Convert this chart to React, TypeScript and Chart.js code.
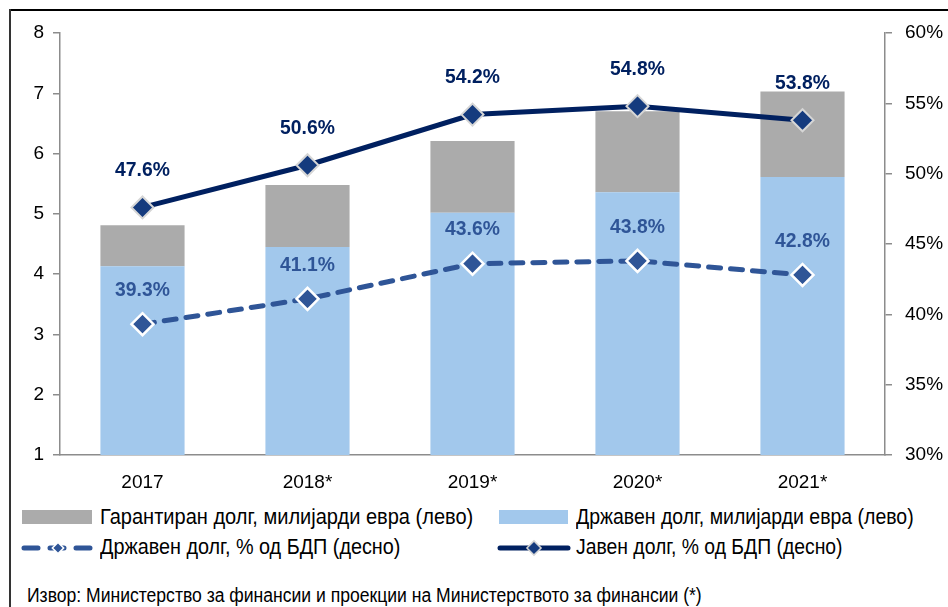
import React, { useEffect, useRef } from "react";
import { Chart, registerables } from "chart.js";
Chart.register(...registerables);

const years = ["2017", "2018*", "2019*", "2020*", "2021*"];
const stateDebtBn = [4.13, 4.45, 5.02, 5.36, 5.61];
const guaranteedDebtBn = [0.68, 1.03, 1.19, 1.34, 1.42];
const stateDebtPct = [39.3, 41.1, 43.6, 43.8, 42.8];
const publicDebtPct = [47.6, 50.6, 54.2, 54.8, 53.8];
const leftTicks = [1, 2, 3, 4, 5, 6, 7, 8];
const rightTicks = [30, 35, 40, 45, 50, 55, 60];

const LBL_GUAR = "Гарантиран долг, милијарди евра (лево)";
const LBL_STATE = "Државен долг, милијарди евра (лево)";
const LBL_STATE_PCT = "Државен долг, % од БДП (десно)";
const LBL_PUBLIC_PCT = "Јавен долг, % од БДП (десно)";
const SOURCE = "Извор: Министерство за финансии и проекции на Министерството за финансии (*)";

const FONT = '"Liberation Sans", Arial, sans-serif';
const NAVY = "#002060";
const MIDBLUE = "#2F5597";
const GRAY = "#ABABAB";
const LIGHTBLUE = "#A2C8EC";
const AXIS = "#8C8C8C";

const labelPlugin = {
  id: "pctLabels",
  afterDatasetsDraw(chart: any) {
    const ctx = chart.ctx;
    const specs = [
      { idx: 2, color: NAVY, off: 37, vals: publicDebtPct },
      { idx: 3, color: MIDBLUE, off: 34, vals: stateDebtPct },
    ];
    ctx.save();
    ctx.font = `bold 21px ${FONT}`;
    ctx.textAlign = "center";
    ctx.textBaseline = "middle";
    specs.forEach((s) => {
      const meta = chart.getDatasetMeta(s.idx);
      meta.data.forEach((pt: any, i: number) => {
        ctx.save();
        ctx.translate(pt.x, pt.y - s.off);
        ctx.scale(0.92, 1);
        ctx.fillStyle = s.color;
        ctx.fillText(s.vals[i].toFixed(1) + "%", 0, 0);
        ctx.restore();
      });
    });
    ctx.restore();
  },
};

export default function App() {
  const ref = useRef<HTMLCanvasElement>(null);
  useEffect(() => {
    const chart = new Chart(ref.current as HTMLCanvasElement, {
      type: "bar",
      data: {
        labels: years,
        datasets: [
          {
            type: "bar",
            label: LBL_STATE,
            data: stateDebtBn,
            backgroundColor: LIGHTBLUE,
            yAxisID: "y",
            stack: "debt",
            barPercentage: 0.51,
            categoryPercentage: 1,
            order: 2,
          },
          {
            type: "bar",
            label: LBL_GUAR,
            data: guaranteedDebtBn,
            backgroundColor: GRAY,
            yAxisID: "y",
            stack: "debt",
            barPercentage: 0.51,
            categoryPercentage: 1,
            order: 2,
          },
          {
            type: "line",
            label: LBL_PUBLIC_PCT,
            data: publicDebtPct,
            yAxisID: "y1",
            borderColor: NAVY,
            borderWidth: 5,
            pointStyle: "rectRot",
            pointRadius: 11,
            pointBackgroundColor: "#153B7E",
            pointBorderColor: "#D6D6D6",
            pointBorderWidth: 2,
            tension: 0,
            order: 0,
          } as any,
          {
            type: "line",
            label: LBL_STATE_PCT,
            data: stateDebtPct,
            yAxisID: "y1",
            borderColor: MIDBLUE,
            borderWidth: 5,
            borderDash: [12, 10],
            borderCapStyle: "round",
            pointStyle: "rectRot",
            pointRadius: 11,
            pointBackgroundColor: MIDBLUE,
            pointBorderColor: "#FFFFFF",
            pointBorderWidth: 2.5,
            tension: 0,
            order: 1,
          } as any,
        ],
      },
      options: {
        responsive: false,
        animation: false,
        layout: { padding: { top: 33, left: 0, right: 0, bottom: 0 } },
        plugins: { legend: { display: false }, tooltip: { enabled: false } },
        scales: {
          x: {
            stacked: true,
            offset: true,
            grid: { display: false, drawTicks: false },
            border: { color: AXIS, width: 1.5 },
            ticks: { color: "#000", font: { family: FONT, size: 19 }, padding: 16 },
            afterFit(s: any) { s.height = 45; },
          },
          y: {
            position: "left",
            stacked: true,
            min: 1,
            max: 8,
            afterBuildTicks(s: any) { s.ticks = leftTicks.map((v) => ({ value: v })); },
            ticks: { color: "#000", font: { family: FONT, size: 19 }, padding: 9 },
            grid: { drawOnChartArea: false, color: AXIS, tickLength: 7, lineWidth: 1.5 },
            border: { color: AXIS, width: 1.5 },
            afterFit(s: any) { s.width = 60; },
          },
          y1: {
            position: "right",
            min: 30,
            max: 60,
            afterBuildTicks(s: any) { s.ticks = rightTicks.map((v) => ({ value: v })); },
            ticks: {
              color: "#000",
              font: { family: FONT, size: 19 },
              padding: 13,
              callback: (v: any) => v + "%",
            },
            grid: { drawOnChartArea: false, color: AXIS, tickLength: 7, lineWidth: 1.5 },
            border: { color: AXIS, width: 1.5 },
            afterFit(s: any) { s.width = 63; },
          },
        },
      } as any,
      plugins: [labelPlugin],
    });
    return () => chart.destroy();
  }, []);

  const txt: React.CSSProperties = {
    position: "absolute",
    fontFamily: FONT,
    fontSize: 22,
    color: "#000",
    whiteSpace: "nowrap",
    lineHeight: "22px",
    transform: "scaleX(0.91)",
    transformOrigin: "0 50%",
  };

  return (
    <div
      style={{
        position: "fixed",
        left: 0,
        top: 0,
        width: 948,
        height: 607,
        overflow: "hidden",
        background: "#fff",
        fontFamily: FONT,
      }}
    >
      <canvas
        ref={ref}
        width={948}
        height={500}
        style={{ position: "absolute", left: 0, top: 0, width: 948, height: 500, display: "block" }}
      />
      <div style={{ position: "absolute", left: 22, top: 510, width: 70, height: 14, background: GRAY }} />
      <div style={{ ...txt, left: 100, top: 506 }}>{LBL_GUAR}</div>
      <div style={{ position: "absolute", left: 499, top: 510, width: 69, height: 14, background: LIGHTBLUE }} />
      <div style={{ ...txt, left: 576, top: 506, transform: "scaleX(0.885)" }}>{LBL_STATE}</div>
      <svg style={{ position: "absolute", left: 20, top: 538 }} width={76} height={20}>
        <line x1={4} y1={10} x2={72} y2={10} stroke={MIDBLUE} strokeWidth={5} strokeDasharray="14 12" strokeLinecap="round" />
        <rect x={34} y={6} width={8} height={8} fill={MIDBLUE} stroke="#fff" strokeWidth={1.5} transform="rotate(45 38 10)" />
      </svg>
      <div style={{ ...txt, left: 100, top: 536, transform: "scaleX(0.9)" }}>{LBL_STATE_PCT}</div>
      <svg style={{ position: "absolute", left: 497, top: 538 }} width={74} height={20}>
        <line x1={3} y1={10} x2={71} y2={10} stroke={NAVY} strokeWidth={5} strokeLinecap="round" />
        <rect x={32} y={5} width={10} height={10} fill="#153B7E" stroke="#D6D6D6" strokeWidth={1.5} transform="rotate(45 37 10)" />
      </svg>
      <div style={{ ...txt, left: 576, top: 536, transform: "scaleX(0.88)" }}>{LBL_PUBLIC_PCT}</div>
      <div style={{ ...txt, left: 27, top: 584, fontSize: 19.5, transform: "scaleX(0.9)" }}>{SOURCE}</div>
      <svg
        style={{ position: "absolute", left: 0, top: 0, pointerEvents: "none" }}
        width={948}
        height={607}
      >
        <line x1={9} y1={10} x2={948} y2={10} stroke="#000" strokeWidth={2} />
        <line x1={10} y1={9} x2={10} y2={607} stroke="#333" strokeWidth={2} />
      </svg>
    </div>
  );
}
